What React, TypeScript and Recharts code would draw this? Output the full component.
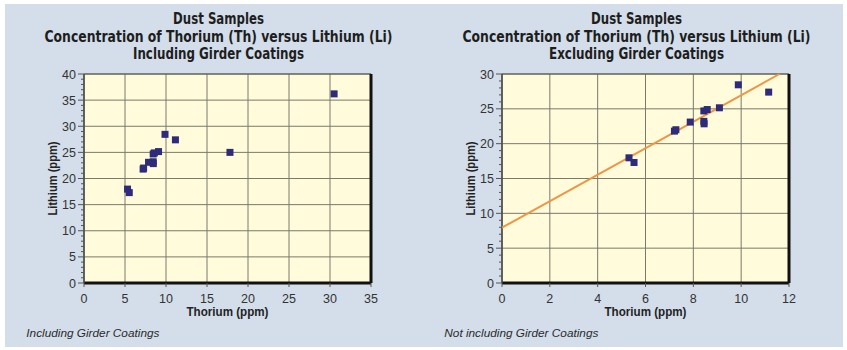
import { ScatterChart, Scatter, XAxis, YAxis, CartesianGrid, ReferenceLine } from 'recharts';

// dust samples without girder coatings (ppm)
const thorium = [5.31, 5.52, 7.21, 7.27, 7.87, 8.44, 8.58, 8.44, 8.45, 9.09, 9.88, 11.15];
const lithium = [17.97, 17.3, 21.8, 22.0, 23.1, 24.7, 24.9, 23.2, 22.85, 25.15, 28.45, 27.4];

// girder coating samples (only on the left chart)
const girderThorium = [17.8, 30.5];
const girderLithium = [25.0, 36.2];

// fitted line on the right chart, as drawn
const trendThorium = [0, 11.6];
const trendLithium = [7.95, 30];

const leftXTicks = [0, 5, 10, 15, 20, 25, 30, 35];
const leftYTicks = [0, 5, 10, 15, 20, 25, 30, 35, 40];
const rightXTicks = [0, 2, 4, 6, 8, 10, 12];
const rightYTicks = [0, 5, 10, 15, 20, 25, 30];

const toPoints = (xs: number[], ys: number[]) => xs.map((x, i) => ({ x, y: ys[i] }));
const minorTicks = (max: number) => Array.from({ length: max + 1 }, (_, i) => i);

const baseData = toPoints(thorium, lithium);
const allData = baseData.concat(toPoints(girderThorium, girderLithium));
const trendData = toPoints(trendThorium, trendLithium);

const MARKER = '#2d2b7a';
const TICK_FONT = { fontFamily: '"Liberation Sans", Arial, sans-serif', fontSize: 12.5, fill: '#333' };

const Square = (p: any) => (
  <rect x={p.cx - 3.5} y={p.cy - 3.5} width={7} height={7} fill={MARKER} />
);
const NoShape = () => <g />;

function YTick(props: any) {
  const { x, y, payload } = props;
  const major = payload.value % 5 === 0;
  return (
    <g>
      <line x1={x - (major ? 6 : 3)} x2={x} y1={y} y2={y} stroke="#555" strokeWidth={1} />
      {major && (
        <text x={x - 8} y={y} dy="0.36em" textAnchor="end" style={TICK_FONT}>
          {payload.value}
        </text>
      )}
    </g>
  );
}

function XTick(props: any) {
  const { x, y, payload } = props;
  return (
    <g>
      <line x1={x} x2={x} y1={y} y2={y + 4} stroke="#555" strokeWidth={1} />
      <text x={x} y={y + 19.5} textAnchor="middle" style={TICK_FONT}>
        {payload.value}
      </text>
    </g>
  );
}

const AXIS_TITLE = {
  fontFamily: '"Liberation Sans", Arial, sans-serif',
  fontSize: 12,
  fontWeight: 700,
  fill: '#222',
};

interface PanelProps {
  left: number;
  subtitle: string;
  subtitleWidth: number;
  caption: string;
  xTicks: number[];
  yTicks: number[];
  showGirder: boolean;
  showTrend: boolean;
}

function Panel({ left, subtitle, subtitleWidth, caption, xTicks, yTicks, showGirder, showTrend }: PanelProps) {
  const xMax = xTicks[xTicks.length - 1];
  const yMax = yTicks[yTicks.length - 1];
  const titleStyle = {
    fontFamily: '"DejaVu Sans Condensed", "DejaVu Sans", sans-serif',
    fontStretch: 'condensed',
    fontWeight: 700,
    fontSize: 15,
    fill: '#1e1e1e',
  } as const;
  return (
    <div style={{ position: 'absolute', left, top: 0, width: 424, height: 350 }}>
      <ScatterChart width={424} height={350} margin={{ top: 74, right: 53, bottom: 27, left: 44 }}>
        <CartesianGrid
          fill="#fffbdb"
          fillOpacity={1}
          stroke="#7a7a6a"
          strokeWidth={1}
          horizontalValues={yTicks}
          verticalValues={xTicks}
        />
        <XAxis
          type="number"
          dataKey="x"
          domain={[0, xMax]}
          ticks={xTicks}
          interval={0}
          height={40}
          tickSize={0}
          tickMargin={0}
          tickLine={false}
          tick={<XTick />}
          axisLine={{ stroke: '#111', strokeWidth: 3 }}
          label={{
            content: (p: any) => (
              <text
                x={p.viewBox.x + p.viewBox.width / 2}
                y={p.viewBox.y + 33}
                textAnchor="middle"
                textLength={82}
                lengthAdjust="spacingAndGlyphs"
                style={AXIS_TITLE}
              >
                Thorium (ppm)
              </text>
            ),
          }}
        />
        <YAxis
          type="number"
          dataKey="y"
          domain={[0, yMax]}
          ticks={minorTicks(yMax)}
          interval={0}
          width={40}
          tickSize={0}
          tickMargin={0}
          tickLine={false}
          tick={<YTick />}
          axisLine={{ stroke: '#444', strokeWidth: 1.5 }}
          label={{
            content: (p: any) => {
              const cx = p.viewBox.x + 12.5;
              const cy = p.viewBox.y + p.viewBox.height / 2;
              return (
                <text
                  x={cx}
                  y={cy}
                  transform={`rotate(-90 ${cx} ${cy})`}
                  textAnchor="middle"
                  textLength={74}
                  lengthAdjust="spacingAndGlyphs"
                  style={AXIS_TITLE}
                >
                  Lithium (ppm)
                </text>
              );
            },
          }}
        />
        <ReferenceLine y={yMax} stroke="#555" strokeWidth={1} />
        <ReferenceLine x={xMax} stroke="#111" strokeWidth={3} />
        {showTrend && (
          <Scatter
            data={trendData}
            line={{ stroke: '#ef9444', strokeWidth: 2 }}
            shape={NoShape}
            isAnimationActive={false}
          />
        )}
        <Scatter data={showGirder ? allData : baseData} shape={Square} isAnimationActive={false} />
      </ScatterChart>
      <svg
        width={424}
        height={350}
        style={{ position: 'absolute', left: 0, top: 0, pointerEvents: 'none' }}
      >
        <text x={218.5} y={24} textAnchor="middle" textLength={91} lengthAdjust="spacingAndGlyphs" style={titleStyle}>
          Dust Samples
        </text>
        <text x={218.5} y={41.5} textAnchor="middle" textLength={348} lengthAdjust="spacingAndGlyphs" style={titleStyle}>
          Concentration of Thorium (Th) versus Lithium (Li)
        </text>
        <text
          x={218.5}
          y={59}
          textAnchor="middle"
          textLength={subtitleWidth}
          lengthAdjust="spacingAndGlyphs"
          style={titleStyle}
        >
          {subtitle}
        </text>
        <text
          x={26.3}
          y={337}
          style={{
            fontFamily: '"Liberation Sans", Arial, sans-serif',
            fontSize: 11.8,
            fontStyle: 'italic',
            fill: '#2a2a2a',
          }}
        >
          {caption}
        </text>
      </svg>
    </div>
  );
}

export default function App() {
  return (
    <div style={{ position: 'absolute', left: 0, top: 0, width: 847, height: 350, background: '#fff' }}>
      <div style={{ position: 'absolute', left: 5, top: 4, width: 838, height: 343, background: '#d3deea' }} />
      <Panel
        left={0}
        subtitle="Including Girder Coatings"
        subtitleWidth={171}
        caption="Including Girder Coatings"
        xTicks={leftXTicks}
        yTicks={leftYTicks}
        showGirder
        showTrend={false}
      />
      <Panel
        left={418}
        subtitle="Excluding Girder Coatings"
        subtitleWidth={175}
        caption="Not including Girder Coatings"
        xTicks={rightXTicks}
        yTicks={rightYTicks}
        showGirder={false}
        showTrend
      />
    </div>
  );
}
